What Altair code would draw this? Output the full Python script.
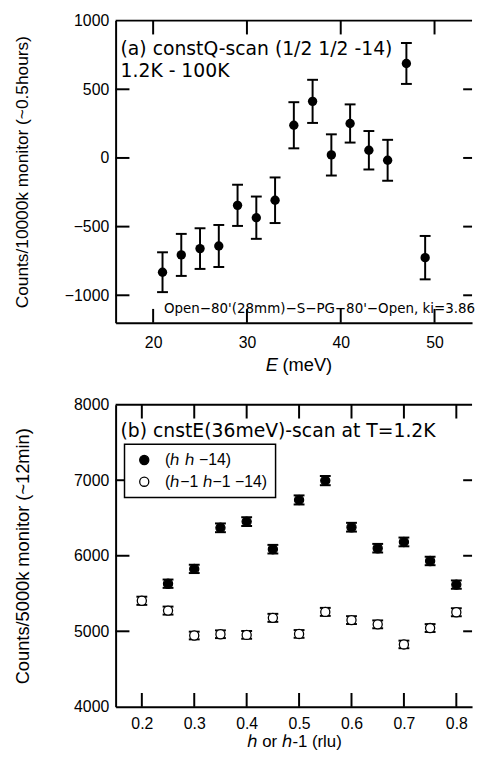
import altair as alt
import pandas as pd

# ---------------- panel (a): constQ-scan ----------------
E_meV = [21, 23, 25, 27, 29, 31, 33, 35, 37, 39, 41, 43, 45, 47, 49]
counts_a = [-832, -706, -660, -641, -345, -435, -308, 238, 412, 22, 251, 56, -17, 688, -726]
err_a = [145, 153, 148, 153, 150, 154, 166, 168, 157, 150, 139, 140, 149, 149, 158]
a_xticks = [20, 30, 40, 50]
a_ylabels = [-1000, -500, 0, 500, 1000]
a_inner_yticks = [-1000, -500, 0, 500]
a_title = ["(a) constQ-scan (1/2 1/2 -14)", "1.2K - 100K"]
a_note = "Open\u221280'(28mm)\u2212S\u2212PG\u221280'\u2212Open, ki=3.86"

# ---------------- panel (b): constE-scan ----------------
h_hh = [0.25, 0.30, 0.35, 0.40, 0.45, 0.50, 0.55, 0.60, 0.65, 0.70, 0.75, 0.80]
counts_hh = [5630, 5826, 6370, 6452, 6087, 6739, 6995, 6378, 6100, 6183, 5931, 5618]
err_hh = [55, 55, 58, 58, 57, 60, 61, 58, 57, 58, 56, 55]
h_h1 = [0.20, 0.25, 0.30, 0.35, 0.40, 0.45, 0.50, 0.55, 0.60, 0.65, 0.70, 0.75, 0.80]
counts_h1 = [5404, 5274, 4944, 4961, 4952, 5178, 4965, 5257, 5148, 5092, 4826, 5043, 5252]
err_h1 = [54, 53, 51, 51, 51, 53, 51, 53, 52, 52, 50, 52, 53]
b_xticks = [0.2, 0.3, 0.4, 0.5, 0.6, 0.7, 0.8]
b_ylabels = [4000, 5000, 6000, 7000, 8000]
b_inner_yticks = [5000, 6000, 7000]
series_names = ["(\u210e \u210e \u221214)", "(\u210e\u22121 \u210e\u22121 \u221214)"]
b_title = "(b) cnstE(36meV)-scan at T=1.2K"

W = 361
HA, HB = 306, 306
SANS = "Liberation Sans, DejaVu Sans"
TXT = "DejaVu Sans"


def frame(xscale, yscale, xticks, yticks, H):
    one = pd.DataFrame({"k": [0]})
    xt = pd.DataFrame({"v": xticks})
    yt = pd.DataFrame({"v": yticks})
    base = dict(color="black", strokeWidth=2)
    top_line = alt.Chart(one).mark_rule(**base).encode(
        x=alt.value(0), x2=alt.value(W), y=alt.value(0))
    top_t = alt.Chart(xt).mark_rule(**base).encode(
        x=alt.X("v:Q", scale=xscale, axis=None), y=alt.value(0), y2=alt.value(14))
    bot_t = alt.Chart(xt).mark_rule(**base).encode(
        x=alt.X("v:Q", scale=xscale, axis=None), y=alt.value(H - 14), y2=alt.value(H))
    left_t = alt.Chart(yt).mark_rule(**base).encode(
        y=alt.Y("v:Q", scale=yscale, axis=None), x=alt.value(0), x2=alt.value(14))
    right_t = alt.Chart(yt).mark_rule(**base).encode(
        y=alt.Y("v:Q", scale=yscale, axis=None), x=alt.value(W - 9), x2=alt.value(W))
    return [top_line, top_t, bot_t, left_t, right_t]


def text_layer(s, x, y, font, size, style="normal"):
    return alt.Chart(pd.DataFrame({"t": [s]})).mark_text(
        align="left", baseline="alphabetic", font=font, fontSize=size,
        fontStyle=style, color="black").encode(
        x=alt.value(x), y=alt.value(y), text="t:N")


def err_layers(df, x, xscale, yscale):
    bar = alt.Chart(df).mark_rule(color="black", strokeWidth=2).encode(
        x=alt.X(f"{x}:Q", scale=xscale, axis=None),
        y=alt.Y("lo:Q", scale=yscale, axis=None), y2="hi:Q")
    cap_lo = alt.Chart(df).mark_tick(color="black", orient="horizontal", size=11,
                                     thickness=2, opacity=1).encode(
        x=alt.X(f"{x}:Q", scale=xscale, axis=None),
        y=alt.Y("lo:Q", scale=yscale, axis=None))
    cap_hi = alt.Chart(df).mark_tick(color="black", orient="horizontal", size=11,
                                     thickness=2, opacity=1).encode(
        x=alt.X(f"{x}:Q", scale=xscale, axis=None),
        y=alt.Y("hi:Q", scale=yscale, axis=None))
    return [bar, cap_lo, cap_hi]


def axis_common(**kw):
    return alt.Axis(ticks=False, tickSize=0, grid=False, domainColor="black",
                    domainWidth=2, labelColor="black", titleColor="black",
                    labelFont="Liberation Sans", labelFontSize=16,
                    titleFont=SANS, titleFontWeight="normal",
                    labelFlush=False, **kw)


# ---- panel (a)
df_a = pd.DataFrame({"E": E_meV, "c": counts_a, "e": err_a})
df_a["lo"] = df_a["c"] - df_a["e"]
df_a["hi"] = df_a["c"] + df_a["e"]
xs_a = alt.Scale(domain=[16, 54.0], nice=False, zero=False)
ys_a = alt.Scale(domain=[-1200, 1000], nice=False, zero=False)

pts_a = alt.Chart(df_a).mark_point(shape="circle", filled=True, size=90,
                                   color="black", opacity=1).encode(
    x=alt.X("E:Q", scale=xs_a,
            axis=axis_common(values=a_xticks, format="d", title=None, labelPadding=12)),
    y=alt.Y("c:Q", scale=ys_a,
            axis=axis_common(values=a_ylabels, format="d",
                             title="Counts/10000k monitor (~0.5hours)",
                             titleFontSize=17.5, titlePadding=33, labelPadding=7)),
)

panel_a = alt.layer(
    pts_a,
    *frame(xs_a, ys_a, a_xticks, a_inner_yticks, HA),
    *err_layers(df_a, "E", xs_a, ys_a),
    text_layer(a_title[0], 5, 35, TXT, 19),
    text_layer(a_title[1], 5, 57, TXT, 19),
    text_layer(a_note, 49, 296, TXT, 13.6),
    text_layer("E", 152, HA + 49, "Liberation Sans", 18.5, "italic"),
    text_layer("(meV)", 169, HA + 49, "Liberation Sans", 18.5),
).resolve_axis(x="independent", y="independent").properties(width=W, height=HA)

# ---- panel (b)
df_b = pd.concat([
    pd.DataFrame({"h": h_hh, "c": counts_hh, "e": err_hh, "s": series_names[0]}),
    pd.DataFrame({"h": h_h1, "c": counts_h1, "e": err_h1, "s": series_names[1]}),
], ignore_index=True)
df_b["lo"] = df_b["c"] - df_b["e"]
df_b["hi"] = df_b["c"] + df_b["e"]
xs_b = alt.Scale(domain=[0.15, 0.83], nice=False, zero=False)
ys_b = alt.Scale(domain=[4000, 8000], nice=False, zero=False)

pts_b = alt.Chart(df_b).mark_point(shape="circle", filled=True, size=85,
                                   stroke="black", strokeWidth=1.3, opacity=1).encode(
    x=alt.X("h:Q", scale=xs_b,
            axis=axis_common(values=b_xticks, format=".1f",
                             title="\u210e or \u210e-1 (rlu)", titleFontSize=17,
                             titlePadding=2, labelPadding=9)),
    y=alt.Y("c:Q", scale=ys_b,
            axis=axis_common(values=b_ylabels, format="d",
                             title="Counts/5000k monitor (~12min)",
                             titleFontSize=18.5, titlePadding=42, labelPadding=7)),
    fill=alt.Fill("s:N", scale=alt.Scale(domain=series_names, range=["black", "white"]),
                  legend=alt.Legend(title=None, orient="none", legendX=9, legendY=429,
                                    symbolType="circle", symbolSize=85,
                                    symbolStrokeColor="black", symbolStrokeWidth=1.3,
                                    symbolOffset=4, labelOffset=13, rowPadding=6,
                                    padding=8, labelFont="Liberation Sans",
                                    labelFontSize=16,
                                    labelColor="black", strokeColor="black",
                                    fillColor="white")),
)

panel_b = alt.layer(
    *frame(xs_b, ys_b, b_xticks, b_inner_yticks, HB),
    *err_layers(df_b, "h", xs_b, ys_b),
    pts_b,
    text_layer(b_title, 5, 33, TXT, 19),
).resolve_axis(x="independent", y="independent").properties(width=W, height=HB)

chart = alt.vconcat(panel_a, panel_b, spacing=22).properties(
    padding={"left": 5, "top": 0, "right": 0, "bottom": 0}
).configure_view(strokeWidth=0).configure_legend(strokeWidth=1.5)

chart.save("out.html", embed_options={"renderer": "svg", "actions": False})
